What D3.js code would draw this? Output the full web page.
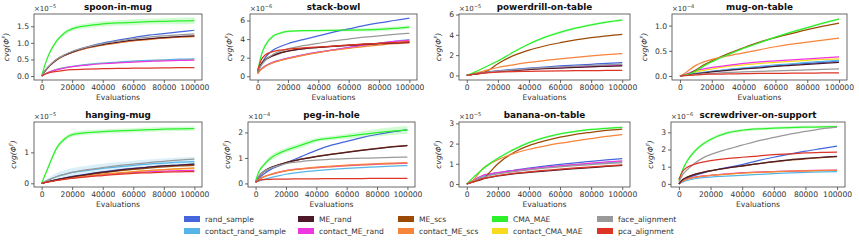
<!DOCTYPE html>
<html>
<head>
<meta charset="utf-8">
<script src="https://cdn.jsdelivr.net/npm/d3@7"></script>
<style>
  body { margin: 0; background: #fff; }
  svg { font-family: "DejaVu Sans", sans-serif; }
</style>
</head>
<body>
<script>
// evaluation points (x) shared by every panel
const evals = [0, 2500, 5000, 10000, 15000, 20000, 30000, 40000, 50000, 60000, 70000, 80000, 90000, 100000];

const seriesNames = ["rand_sample", "contact_rand_sample", "ME_rand", "contact_ME_rand", "ME_scs",
                     "contact_ME_scs", "CMA_MAE", "contact_CMA_MAE", "face_alignment", "pca_alignment"];
const seriesColors = ["#4565dc", "#55b5e9", "#4e1a2a", "#ee37e0", "#9b4a06",
                      "#f6843a", "#2cf02c", "#f8dc1c", "#999999", "#dd3426"];
// order in which lines are stacked (yellow underneath, dark ME_rand over the scs pair)
const drawOrder = [7, 0, 1, 3, 4, 5, 2, 6, 8, 9];

const xTicks = [0, 20000, 40000, 60000, 80000, 100000];

// one row per series, same order as seriesNames
const spoonInMug = [
  [0, 0.17, 0.3, 0.5, 0.63, 0.73, 0.88, 0.99, 1.08, 1.16, 1.23, 1.28, 1.33, 1.38],
  [0, 0.07, 0.12, 0.2, 0.25, 0.29, 0.35, 0.39, 0.42, 0.45, 0.47, 0.49, 0.51, 0.52],
  [0, 0.17, 0.3, 0.5, 0.63, 0.72, 0.86, 0.95, 1.02, 1.08, 1.12, 1.16, 1.19, 1.21],
  [0, 0.07, 0.12, 0.19, 0.24, 0.28, 0.33, 0.37, 0.4, 0.42, 0.44, 0.46, 0.47, 0.48],
  [0, 0.17, 0.3, 0.49, 0.62, 0.71, 0.85, 0.94, 1.01, 1.07, 1.11, 1.15, 1.18, 1.2],
  [0, 0.17, 0.3, 0.49, 0.62, 0.71, 0.84, 0.93, 1.0, 1.06, 1.1, 1.14, 1.17, 1.19],
  [0, 0.38, 0.68, 1.07, 1.3, 1.42, 1.52, 1.57, 1.6, 1.62, 1.64, 1.65, 1.66, 1.67],
  [0, 0.07, 0.12, 0.2, 0.25, 0.28, 0.34, 0.38, 0.41, 0.44, 0.46, 0.48, 0.49, 0.5],
  [0, 0.18, 0.31, 0.51, 0.64, 0.74, 0.88, 0.98, 1.05, 1.12, 1.17, 1.21, 1.24, 1.27],
  [0, 0.06, 0.1, 0.14, 0.17, 0.19, 0.21, 0.22, 0.23, 0.235, 0.24, 0.245, 0.25, 0.25]
];
const stackBowl = [
  [0.4, 1.3, 2.0, 2.8, 3.2, 3.5, 3.95, 4.35, 4.75, 5.1, 5.45, 5.75, 6.0, 6.25],
  [0.3, 0.8, 1.1, 1.5, 1.75, 1.95, 2.3, 2.6, 2.85, 3.1, 3.35, 3.55, 3.75, 3.95],
  [0.5, 1.3, 1.75, 2.2, 2.5, 2.7, 2.95, 3.1, 3.22, 3.32, 3.42, 3.5, 3.58, 3.65],
  [0.3, 0.8, 1.1, 1.5, 1.75, 1.95, 2.3, 2.6, 2.85, 3.1, 3.35, 3.55, 3.75, 3.9],
  [0.5, 1.35, 1.8, 2.25, 2.55, 2.72, 2.97, 3.12, 3.25, 3.35, 3.45, 3.53, 3.6, 3.68],
  [0.3, 0.75, 1.05, 1.45, 1.7, 1.9, 2.25, 2.55, 2.8, 3.0, 3.2, 3.35, 3.5, 3.6],
  [0.5, 2.3, 3.3, 4.3, 4.65, 4.82, 4.9, 4.92, 4.95, 4.97, 5.0, 5.05, 5.15, 5.3],
  [0.3, 0.78, 1.08, 1.48, 1.72, 1.93, 2.28, 2.58, 2.83, 3.05, 3.28, 3.48, 3.65, 3.8],
  [0.5, 1.2, 1.7, 2.35, 2.7, 2.95, 3.3, 3.55, 3.8, 4.0, 4.2, 4.35, 4.5, 4.62],
  [0.6, 1.8, 2.3, 2.65, 2.82, 2.92, 3.05, 3.15, 3.25, 3.35, 3.45, 3.55, 3.62, 3.7]
];
const powerdrillOnTable = [
  [0, 0.08, 0.15, 0.28, 0.38, 0.46, 0.6, 0.72, 0.83, 0.93, 1.02, 1.1, 1.18, 1.25],
  [0, 0.07, 0.13, 0.25, 0.34, 0.41, 0.54, 0.65, 0.74, 0.82, 0.9, 0.97, 1.03, 1.08],
  [0, 0.07, 0.13, 0.24, 0.32, 0.38, 0.49, 0.58, 0.66, 0.73, 0.79, 0.85, 0.9, 0.95],
  [0, 0.07, 0.13, 0.24, 0.33, 0.4, 0.52, 0.62, 0.71, 0.78, 0.85, 0.91, 0.96, 1.0],
  [0, 0.06, 0.12, 0.22, 0.6, 1.15, 1.95, 2.5, 2.9, 3.22, 3.5, 3.72, 3.9, 4.05],
  [0, 0.1, 0.2, 0.4, 0.6, 0.78, 1.05, 1.28, 1.47, 1.63, 1.78, 1.92, 2.04, 2.15],
  [0, 0.15, 0.32, 0.68, 1.05, 1.42, 2.3, 3.1, 3.75, 4.25, 4.65, 4.98, 5.25, 5.45],
  [0, 0.07, 0.13, 0.25, 0.33, 0.4, 0.53, 0.63, 0.72, 0.8, 0.87, 0.93, 0.99, 1.03],
  [0, 0.07, 0.14, 0.26, 0.35, 0.42, 0.55, 0.66, 0.76, 0.84, 0.92, 0.99, 1.05, 1.1],
  [0, 0.07, 0.13, 0.22, 0.28, 0.32, 0.37, 0.4, 0.43, 0.45, 0.47, 0.48, 0.49, 0.5]
];
const mugOnTable = [
  [0, 0.01, 0.02, 0.05, 0.07, 0.09, 0.12, 0.15, 0.18, 0.2, 0.23, 0.25, 0.27, 0.3],
  [0, 0.01, 0.02, 0.05, 0.07, 0.09, 0.13, 0.16, 0.19, 0.22, 0.24, 0.27, 0.29, 0.31],
  [0, 0.01, 0.02, 0.04, 0.06, 0.08, 0.11, 0.14, 0.16, 0.19, 0.21, 0.23, 0.25, 0.27],
  [0, 0.02, 0.05, 0.11, 0.14, 0.17, 0.21, 0.25, 0.28, 0.3, 0.32, 0.34, 0.36, 0.38],
  [0, 0.01, 0.03, 0.12, 0.22, 0.3, 0.44, 0.56, 0.67, 0.76, 0.84, 0.92, 0.99, 1.05],
  [0, 0.04, 0.1, 0.21, 0.28, 0.33, 0.4, 0.46, 0.52, 0.58, 0.63, 0.67, 0.71, 0.75],
  [0, 0.01, 0.03, 0.1, 0.2, 0.28, 0.42, 0.55, 0.66, 0.77, 0.87, 0.96, 1.05, 1.13],
  [0, 0.02, 0.04, 0.08, 0.11, 0.14, 0.19, 0.22, 0.25, 0.27, 0.29, 0.31, 0.33, 0.34],
  [0, 0.01, 0.01, 0.03, 0.04, 0.05, 0.07, 0.08, 0.09, 0.1, 0.11, 0.12, 0.13, 0.14],
  [0, 0.005, 0.01, 0.02, 0.03, 0.035, 0.04, 0.045, 0.05, 0.05, 0.055, 0.055, 0.06, 0.06]
];
const hangingMug = [
  [0, 0.03, 0.06, 0.12, 0.17, 0.22, 0.3, 0.37, 0.43, 0.48, 0.52, 0.56, 0.59, 0.62],
  [0, 0.06, 0.12, 0.22, 0.29, 0.35, 0.42, 0.48, 0.53, 0.58, 0.62, 0.65, 0.68, 0.7],
  [0, 0.03, 0.06, 0.12, 0.17, 0.21, 0.29, 0.36, 0.42, 0.47, 0.52, 0.56, 0.59, 0.62],
  [0, 0.03, 0.05, 0.1, 0.14, 0.17, 0.23, 0.28, 0.32, 0.35, 0.37, 0.39, 0.41, 0.42],
  [0, 0.03, 0.06, 0.11, 0.16, 0.2, 0.27, 0.34, 0.4, 0.45, 0.49, 0.53, 0.56, 0.58],
  [0, 0.03, 0.05, 0.1, 0.14, 0.17, 0.23, 0.29, 0.33, 0.37, 0.41, 0.44, 0.47, 0.5],
  [0, 0.3, 0.6, 1.15, 1.43, 1.57, 1.64, 1.67, 1.69, 1.71, 1.73, 1.75, 1.76, 1.77],
  [0, 0.03, 0.05, 0.1, 0.14, 0.18, 0.24, 0.29, 0.34, 0.38, 0.41, 0.44, 0.46, 0.48],
  [0, 0.06, 0.12, 0.22, 0.29, 0.35, 0.44, 0.51, 0.57, 0.62, 0.67, 0.71, 0.75, 0.78],
  [0, 0.03, 0.05, 0.09, 0.13, 0.16, 0.21, 0.25, 0.29, 0.32, 0.34, 0.36, 0.37, 0.38]
];
const pegInHole = [
  [0.05, 0.22, 0.35, 0.55, 0.68, 0.8, 1.05, 1.3, 1.5, 1.65, 1.8, 1.92, 2.02, 2.1],
  [0.05, 0.1, 0.15, 0.23, 0.3, 0.36, 0.44, 0.5, 0.55, 0.59, 0.62, 0.65, 0.68, 0.7],
  [0.05, 0.3, 0.45, 0.62, 0.73, 0.82, 0.95, 1.05, 1.14, 1.22, 1.3, 1.37, 1.43, 1.48],
  [0.05, 0.17, 0.25, 0.35, 0.43, 0.5, 0.57, 0.62, 0.66, 0.7, 0.73, 0.76, 0.78, 0.8],
  [0.05, 0.3, 0.45, 0.62, 0.73, 0.82, 0.95, 1.06, 1.15, 1.23, 1.31, 1.38, 1.44, 1.49],
  [0.05, 0.17, 0.25, 0.36, 0.44, 0.5, 0.58, 0.64, 0.68, 0.72, 0.75, 0.78, 0.8, 0.82],
  [0.1, 0.5, 0.7, 1.0, 1.17, 1.3, 1.5, 1.7, 1.78, 1.85, 1.92, 1.99, 2.05, 2.1],
  [0.05, 0.16, 0.24, 0.34, 0.42, 0.48, 0.56, 0.61, 0.65, 0.69, 0.72, 0.75, 0.77, 0.79],
  [0.05, 0.3, 0.45, 0.6, 0.7, 0.78, 0.86, 0.91, 0.95, 0.97, 0.99, 1.0, 1.02, 1.03],
  [0.05, 0.13, 0.15, 0.16, 0.17, 0.17, 0.18, 0.18, 0.19, 0.19, 0.19, 0.2, 0.2, 0.2]
];
const bananaOnTable = [
  [0, 0.1, 0.2, 0.38, 0.48, 0.56, 0.68, 0.78, 0.88, 0.97, 1.05, 1.12, 1.19, 1.25],
  [0, 0.1, 0.2, 0.37, 0.47, 0.54, 0.65, 0.74, 0.82, 0.89, 0.95, 1.0, 1.05, 1.1],
  [0, 0.07, 0.13, 0.25, 0.33, 0.4, 0.5, 0.57, 0.64, 0.7, 0.76, 0.81, 0.87, 0.92],
  [0, 0.1, 0.22, 0.42, 0.5, 0.56, 0.66, 0.75, 0.83, 0.9, 0.96, 1.03, 1.09, 1.15],
  [0, 0.06, 0.12, 0.23, 0.6, 1.0, 1.55, 1.9, 2.13, 2.32, 2.46, 2.56, 2.65, 2.72],
  [0, 0.08, 0.25, 0.75, 1.0, 1.2, 1.5, 1.72, 1.88, 2.02, 2.14, 2.25, 2.36, 2.45],
  [0, 0.2, 0.38, 0.72, 1.02, 1.27, 1.7, 2.05, 2.3, 2.48, 2.6, 2.7, 2.76, 2.8],
  [0, 0.1, 0.2, 0.38, 0.48, 0.55, 0.66, 0.75, 0.83, 0.9, 0.96, 1.01, 1.06, 1.1],
  [0, 0.08, 0.16, 0.32, 0.42, 0.5, 0.61, 0.7, 0.78, 0.85, 0.91, 0.96, 1.01, 1.05],
  [0, 0.07, 0.13, 0.26, 0.34, 0.41, 0.52, 0.6, 0.67, 0.74, 0.8, 0.85, 0.9, 0.95]
];
const screwdriverOnSupport = [
  [0, 0.2, 0.3, 0.5, 0.63, 0.75, 0.95, 1.12, 1.35, 1.55, 1.73, 1.9, 2.05, 2.2],
  [0, 0.12, 0.2, 0.3, 0.36, 0.4, 0.45, 0.5, 0.55, 0.6, 0.64, 0.67, 0.7, 0.72],
  [0, 0.25, 0.38, 0.55, 0.67, 0.77, 0.92, 1.05, 1.18, 1.3, 1.4, 1.48, 1.55, 1.6],
  [0, 0.18, 0.28, 0.4, 0.46, 0.5, 0.58, 0.65, 0.69, 0.72, 0.75, 0.77, 0.79, 0.8],
  [0, 0.25, 0.38, 0.55, 0.67, 0.76, 0.91, 1.04, 1.17, 1.28, 1.38, 1.46, 1.53, 1.58],
  [0, 0.17, 0.27, 0.38, 0.45, 0.5, 0.57, 0.63, 0.68, 0.71, 0.74, 0.76, 0.78, 0.79],
  [0.2, 0.85, 1.3, 1.9, 2.3, 2.58, 2.95, 3.12, 3.2, 3.24, 3.27, 3.3, 3.31, 3.33],
  [0, 0.17, 0.27, 0.38, 0.44, 0.49, 0.56, 0.62, 0.67, 0.7, 0.73, 0.75, 0.77, 0.78],
  [0.1, 0.55, 0.8, 1.2, 1.5, 1.7, 2.0, 2.25, 2.5, 2.7, 2.9, 3.05, 3.2, 3.3],
  [0.25, 0.75, 0.95, 1.15, 1.27, 1.35, 1.47, 1.55, 1.62, 1.7, 1.75, 1.8, 1.83, 1.85]
];

// half-width of the shaded band around CMA_MAE in each panel
const spoonInMugBand = [0, 0.03, 0.04, 0.05, 0.06, 0.06, 0.07, 0.08, 0.08, 0.09, 0.09, 0.09, 0.1, 0.1];
const stackBowlBand = [0.1, 0.2, 0.2, 0.15, 0.12, 0.1, 0.1, 0.1, 0.12, 0.15, 0.18, 0.2, 0.2, 0.2];
const powerdrillBand = [0, 0.02, 0.03, 0.05, 0.06, 0.07, 0.09, 0.1, 0.11, 0.12, 0.12, 0.12, 0.12, 0.12];
const mugOnTableBand = [0, 0.005, 0.01, 0.01, 0.015, 0.015, 0.02, 0.02, 0.02, 0.02, 0.02, 0.02, 0.02, 0.02];
const hangingMugBand = [0, 0.05, 0.06, 0.07, 0.07, 0.07, 0.07, 0.07, 0.07, 0.07, 0.07, 0.07, 0.07, 0.07];
const pegInHoleBand = [0, 0.05, 0.07, 0.1, 0.1, 0.1, 0.1, 0.08, 0.08, 0.1, 0.12, 0.15, 0.15, 0.15];
const bananaBand = [0, 0.02, 0.03, 0.04, 0.05, 0.05, 0.05, 0.05, 0.05, 0.05, 0.05, 0.05, 0.05, 0.05];
const screwdriverBand = [0, 0.1, 0.1, 0.1, 0.1, 0.1, 0.08, 0.08, 0.08, 0.08, 0.08, 0.08, 0.08, 0.08];
// hanging-mug also shows a wide band around contact_rand_sample
const hangingMugContactBand = [0, 0.04, 0.07, 0.12, 0.13, 0.14, 0.15, 0.15, 0.15, 0.15, 0.15, 0.15, 0.15, 0.15];

const panels = [
  {title: "spoon-in-mug", data: spoonInMug, band: spoonInMugBand, exp: "−5", ticks: [0, 0.5, 1.0, 1.5], fmt: ".1f",
   box: [34, 14, 202, 80], ydom: [-0.12, 1.87]},
  {title: "stack-bowl", data: stackBowl, band: stackBowlBand, exp: "−6", ticks: [0, 2, 4, 6], fmt: "d",
   box: [250, 14, 417, 80], ydom: [-0.4, 6.7]},
  {title: "powerdrill-on-table", data: powerdrillOnTable, band: powerdrillBand, exp: "−5", ticks: [0, 2, 4, 6], fmt: "d",
   box: [459, 14, 630, 80], ydom: [-0.45, 6.05]},
  {title: "mug-on-table", data: mugOnTable, band: mugOnTableBand, exp: "−4", ticks: [0, 0.5, 1.0], fmt: ".1f",
   box: [672, 14, 847, 80], ydom: [-0.08, 1.23]},
  {title: "hanging-mug", data: hangingMug, band: hangingMugBand, exp: "−5", ticks: [0, 1], fmt: "d",
   box: [34, 122, 202, 187], ydom: [-0.12, 1.98], extra: hangingMugContactBand},
  {title: "peg-in-hole", data: pegInHole, band: pegInHoleBand, exp: "−4", ticks: [0, 1, 2], fmt: "d",
   box: [248, 122, 415, 187], ydom: [-0.14, 2.41]},
  {title: "banana-on-table", data: bananaOnTable, band: bananaBand, exp: "−5", ticks: [0, 1, 2, 3], fmt: "d",
   box: [459, 122, 630, 187], ydom: [-0.15, 3.07]},
  {title: "screwdriver-on-support", data: screwdriverOnSupport, band: screwdriverBand, exp: "−6", ticks: [0, 1, 2, 3], fmt: "d",
   box: [671, 122, 845, 187], ydom: [-0.18, 3.6]}
];

const W = 859, H = 242;
const svg = d3.select("body").append("svg")
    .attr("width", W)
    .attr("height", H);

const txt = "#333";
const CMA = 6, CONTACT_RAND = 1;

panels.forEach(function(p) {
  const [x0, y0, x1, y1] = p.box;
  const x = d3.scaleLinear().domain([-5000, 105000]).range([x0, x1]);
  const y = d3.scaleLinear().domain(p.ydom).range([y1, y0]);

  const g = svg.append("g");
  const clipId = "clip-" + p.title;
  g.append("clipPath").attr("id", clipId)
    .append("rect").attr("x", x0).attr("y", y0).attr("width", x1 - x0).attr("height", y1 - y0);

  const plot = g.append("g").attr("clip-path", "url(#" + clipId + ")");

  const area = d3.area()
      .x(function(d, i) { return x(evals[i]); })
      .y0(function(d) { return y(d[0]); })
      .y1(function(d) { return y(d[1]); })
      .curve(d3.curveMonotoneX);

  function addBand(vals, spread, color, op) {
    plot.append("path")
      .datum(vals.map(function(v, i) { return [v - spread[i], v + spread[i]]; }))
      .attr("fill", color)
      .attr("opacity", op)
      .attr("d", area);
  }
  if (p.extra) addBand(p.data[CONTACT_RAND], p.extra, seriesColors[CONTACT_RAND], 0.22);
  addBand(p.data[CMA], p.band, seriesColors[CMA], 0.22);

  const line = d3.line()
      .x(function(d, i) { return x(evals[i]); })
      .y(function(d) { return y(d); })
      .curve(d3.curveMonotoneX);

  drawOrder.forEach(function(k) {
    plot.append("path")
      .datum(p.data[k])
      .attr("fill", "none")
      .attr("stroke", seriesColors[k])
      .attr("stroke-width", 1.25)
      .attr("d", line);
  });

  // frame
  g.append("rect")
    .attr("x", x0).attr("y", y0)
    .attr("width", x1 - x0).attr("height", y1 - y0)
    .attr("fill", "none").attr("stroke", "#444").attr("stroke-width", 0.8);

  // x axis
  const xa = g.append("g")
      .attr("transform", "translate(0," + y1 + ")")
      .call(d3.axisBottom(x).tickValues(xTicks).tickFormat(d3.format("d")).tickSize(3).tickPadding(2));
  // y axis
  const ya = g.append("g")
      .attr("transform", "translate(" + x0 + ",0)")
      .call(d3.axisLeft(y).tickValues(p.ticks).tickFormat(d3.format(p.fmt)).tickSize(3).tickPadding(2));
  [xa, ya].forEach(function(a) {
    a.select(".domain").remove();
    a.selectAll("line").attr("stroke", "#444").attr("stroke-width", 0.8);
    a.selectAll("text").attr("fill", txt).style("font-size", "7.6px").style("font-family", "DejaVu Sans");
  });

  // title
  g.append("text")
    .attr("x", (x0 + x1) / 2).attr("y", y0 - 4)
    .attr("text-anchor", "middle")
    .style("font-size", "8.8px").style("font-weight", "bold")
    .attr("fill", "#111")
    .text(p.title);

  // x label
  g.append("text")
    .attr("x", (x0 + x1) / 2).attr("y", y1 + 20)
    .attr("text-anchor", "middle")
    .style("font-size", "7.6px")
    .attr("fill", txt)
    .text("Evaluations");

  // y label
  const yl = g.append("text")
    .attr("transform", "translate(" + (x0 - (p.fmt === "d" ? 18 : 25)) + "," + ((y0 + y1) / 2) + ") rotate(-90)")
    .attr("text-anchor", "middle")
    .style("font-size", "7.6px")
    .style("font-style", "italic")
    .attr("fill", txt);
  yl.append("tspan").text("cvg(Φ");
  yl.append("tspan").attr("dy", -3).style("font-size", "5.5px").text("F");
  yl.append("tspan").attr("dy", 3).text(")");

  // offset text
  const ot = g.append("text")
    .attr("x", x0).attr("y", y0 - 3)
    .style("font-size", "7px")
    .attr("fill", txt);
  ot.append("tspan").text("×10");
  ot.append("tspan").attr("dy", -3).style("font-size", "5px").text(p.exp);
});

// legend, column-wise like matplotlib with ncol=5
const legX = [184, 298, 398, 492, 597];
const legY = [219, 231];
const leg = svg.append("g");
seriesNames.forEach(function(name, k) {
  const cx = legX[Math.floor(k / 2)], cy = legY[k % 2];
  leg.append("rect")
    .attr("x", cx).attr("y", cy - 3)
    .attr("width", 16).attr("height", 6)
    .attr("fill", seriesColors[k]);
  leg.append("text")
    .attr("x", cx + 21).attr("y", cy + 2.6)
    .style("font-size", "7.6px")
    .attr("fill", txt)
    .text(name);
});
</script>
</body>
</html>
